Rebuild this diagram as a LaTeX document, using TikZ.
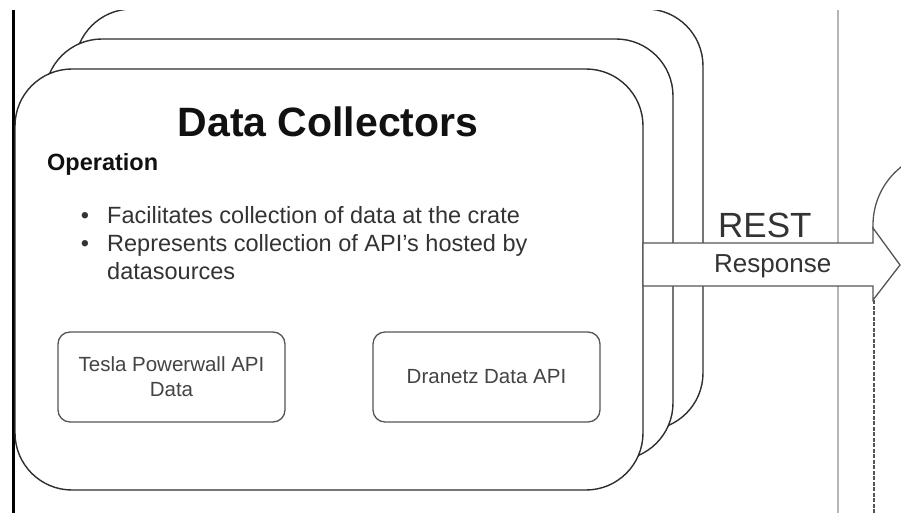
\documentclass[tikz,border=0pt]{standalone}
\usepackage{fontspec}
\setmainfont{Liberation Sans}
\definecolor{boxline}{HTML}{2E2E2E}
\definecolor{apiline}{HTML}{555555}
\definecolor{apitext}{HTML}{444444}
\definecolor{bodytextc}{HTML}{333333}
\definecolor{titlec}{HTML}{111111}
\definecolor{lanec}{HTML}{B5B5B5}
\definecolor{dashc}{HTML}{555555}
\begin{document}
\begin{tikzpicture}[x=1pt,y=-1pt,
  bigbox/.style={draw=boxline, line width=1.4pt, fill=white, rounded corners=57pt,
    minimum width=628pt, minimum height=421pt, anchor=north west, inner sep=0pt, outer sep=0pt},
  apibox/.style={draw=apiline, line width=1.3pt, fill=white, rounded corners=12pt,
    minimum width=227pt, minimum height=90pt, inner sep=0pt, outer sep=0pt, anchor=north west,
    align=center, font=\fontsize{20.5}{25}\selectfont, text=apitext},
  bodytext/.style={anchor=base west, inner sep=0pt, font=\fontsize{23.5}{28}\selectfont, text=bodytextc},
  arrowline/.style={draw=apiline, line width=1.3pt, fill=white, line join=miter},
  lane/.style={draw=lanec, line width=1.8pt},
  lifeline/.style={draw=dashc, line width=1.2pt, dash pattern=on 4pt off 1.5pt}
]
\useasboundingbox (0,0) rectangle (901,513);
\clip (0,10.8) rectangle (901,513);

% lane separators
\draw[line width=3pt, black] (13,0) -- (13,513);
\draw[lane] (838,0) -- (838,513);

% partial actor circle on the right
\begin{scope}
  \clip (860,0) rectangle (901,229);
  \draw[draw=apiline, line width=1.3pt] (947,225) circle[radius=74];
\end{scope}

% stacked boxes
\node[bigbox] (back) at (75,9) {};
\node[bigbox] (middle) at (45,39) {};
\node[bigbox] (front) at (15,69) {};

% API boxes
\node[apibox] (tesla) at (58,332) {Tesla Powerwall API\\Data};
\node[apibox] (dranetz) at (373,332) {Dranetz Data API};

% lifeline
\coordinate (lifetop) at (874,300);
\coordinate (lifebot) at (874,513);
\draw[lifeline] (lifetop) -- (lifebot);

% REST arrow
\coordinate (tip) at (900,265);
\draw[arrowline] (643,243) -- (873,243) -- (873,228) -- (tip) -- (873,300) -- (873,286) -- (643,286) -- cycle;

% texts
\node[anchor=base, inner sep=0pt, font=\bfseries\fontsize{41}{41}\selectfont, text=titlec] (title) at (328,137) {Data Collectors};
\node[anchor=base west, inner sep=0pt, font=\bfseries\fontsize{23.5}{23.5}\selectfont, text=titlec] (op) at (47,171) {Operation};
\node[bodytext, anchor=base] (d1) at (85,223) {•};
\node[bodytext] (b1) at (107,223) {Facilitates collection of data at the crate};
\node[bodytext, anchor=base] (d2) at (85,251) {•};
\node[bodytext] (b2) at (107,251) {Represents collection of API’s hosted by};
\node[bodytext] (b3) at (107,279) {datasources};

\node[anchor=base west, inner sep=0pt, font=\fontsize{35}{35}\selectfont, text=bodytextc] (rest) at (718,237) {REST};
\node[anchor=base west, inner sep=0pt, font=\fontsize{26}{26}\selectfont, text=bodytextc] (resp) at (714,272) {Response};
\end{tikzpicture}
\end{document}
